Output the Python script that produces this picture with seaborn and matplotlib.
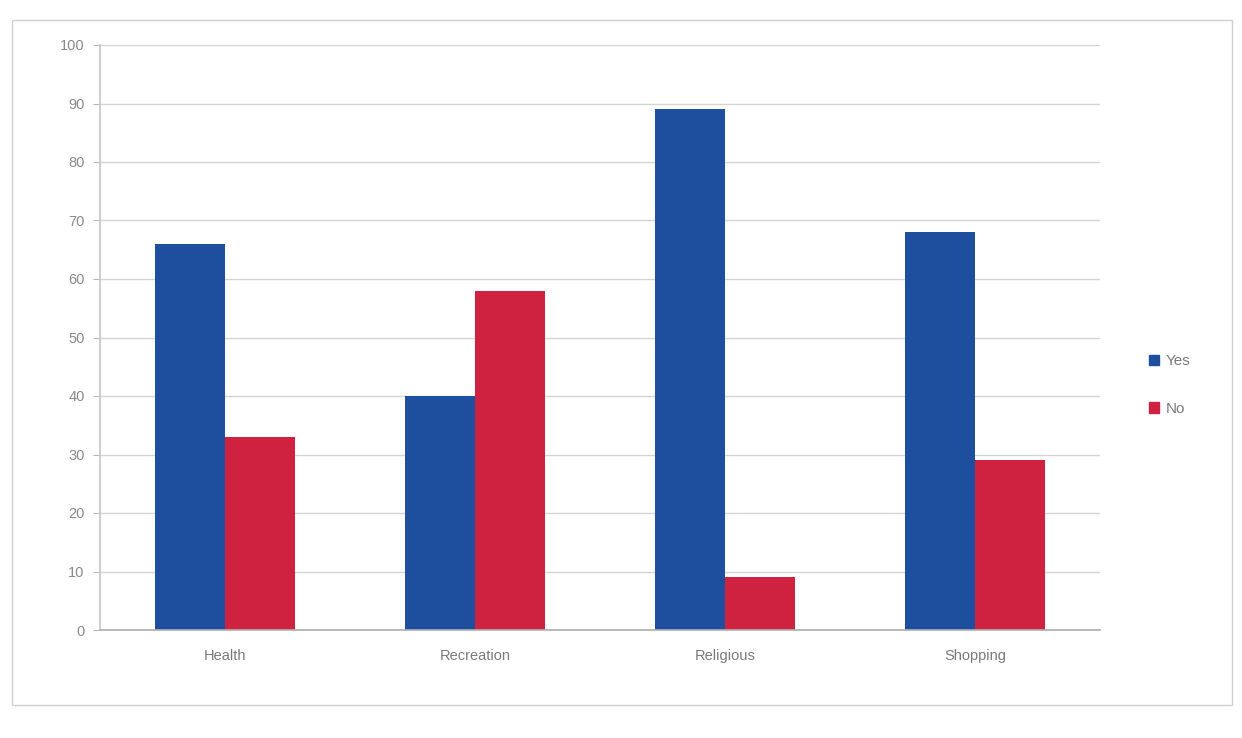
import matplotlib
matplotlib.use("Agg")
import matplotlib.pyplot as plt
import matplotlib.patches as mpatches
import pandas as pd
import seaborn as sns

categories = ["Health", "Recreation", "Religious", "Shopping"]
yes_values = [66, 40, 89, 68]
no_values = [33, 58, 9, 29]
series_names = ["Yes", "No"]
y_ticks = list(range(0, 101, 10))

colors = {"Yes": "#1d4f9e", "No": "#cf2240"}

df = pd.DataFrame({
    "Category": categories * 2,
    "Response": ["Yes"] * len(categories) + ["No"] * len(categories),
    "Percent": yes_values + no_values,
})

sns.set_theme(style="white")
plt.rcParams["font.family"] = ["Liberation Sans", "DejaVu Sans"]

fig = plt.figure(figsize=(12.42, 7.38), dpi=100)
ax = fig.add_axes([100 / 1242, 1 - 630 / 738, 1000 / 1242, 585 / 738])

sns.barplot(data=df, x="Category", y="Percent", hue="Response",
            hue_order=series_names, order=categories, palette=colors,
            width=0.56, gap=0, saturation=1, linewidth=0,
            ax=ax, legend=False)

ax.set_ylim(0, 100)
ax.set_xlim(-0.5, 3.5)
ax.set_yticks(y_ticks)
ax.set_yticklabels([str(t) for t in y_ticks], color="#8a8a8a", fontsize=10.5)
ax.tick_params(axis="x", colors="#7a7a7a", labelsize=10.5, length=0, pad=14)
ax.tick_params(axis="y", length=5, width=0.8, color="#b8b8b8", pad=6, left=True)
ax.set_xlabel("")
ax.set_ylabel("")
ax.yaxis.grid(True, color="#d4d4d4", linewidth=1.0)
ax.set_axisbelow(True)
for side in ["top", "right"]:
    ax.spines[side].set_visible(False)
ax.spines["left"].set_color("#c8c8c8")
ax.spines["bottom"].set_color("#b0b0b0")

handles = [mpatches.Patch(color=colors[s], label=s) for s in series_names]
leg = fig.legend(handles=handles, loc="center left",
                 bbox_to_anchor=(1135 / 1242, 1 - 385 / 738),
                 frameon=False, fontsize=11, handlelength=0.7,
                 handleheight=0.7, handletextpad=0.4, labelspacing=2.2)
for t in leg.get_texts():
    t.set_color("#7a7a7a")

# chart area border
fig.add_artist(mpatches.Rectangle((12 / 1242, 1 - 705 / 738), 1220 / 1242, 685 / 738,
                                  transform=fig.transFigure, fill=False,
                                  edgecolor="#d0d0d0", linewidth=1.0))

fig.savefig("out.png", dpi=100, facecolor="white")
